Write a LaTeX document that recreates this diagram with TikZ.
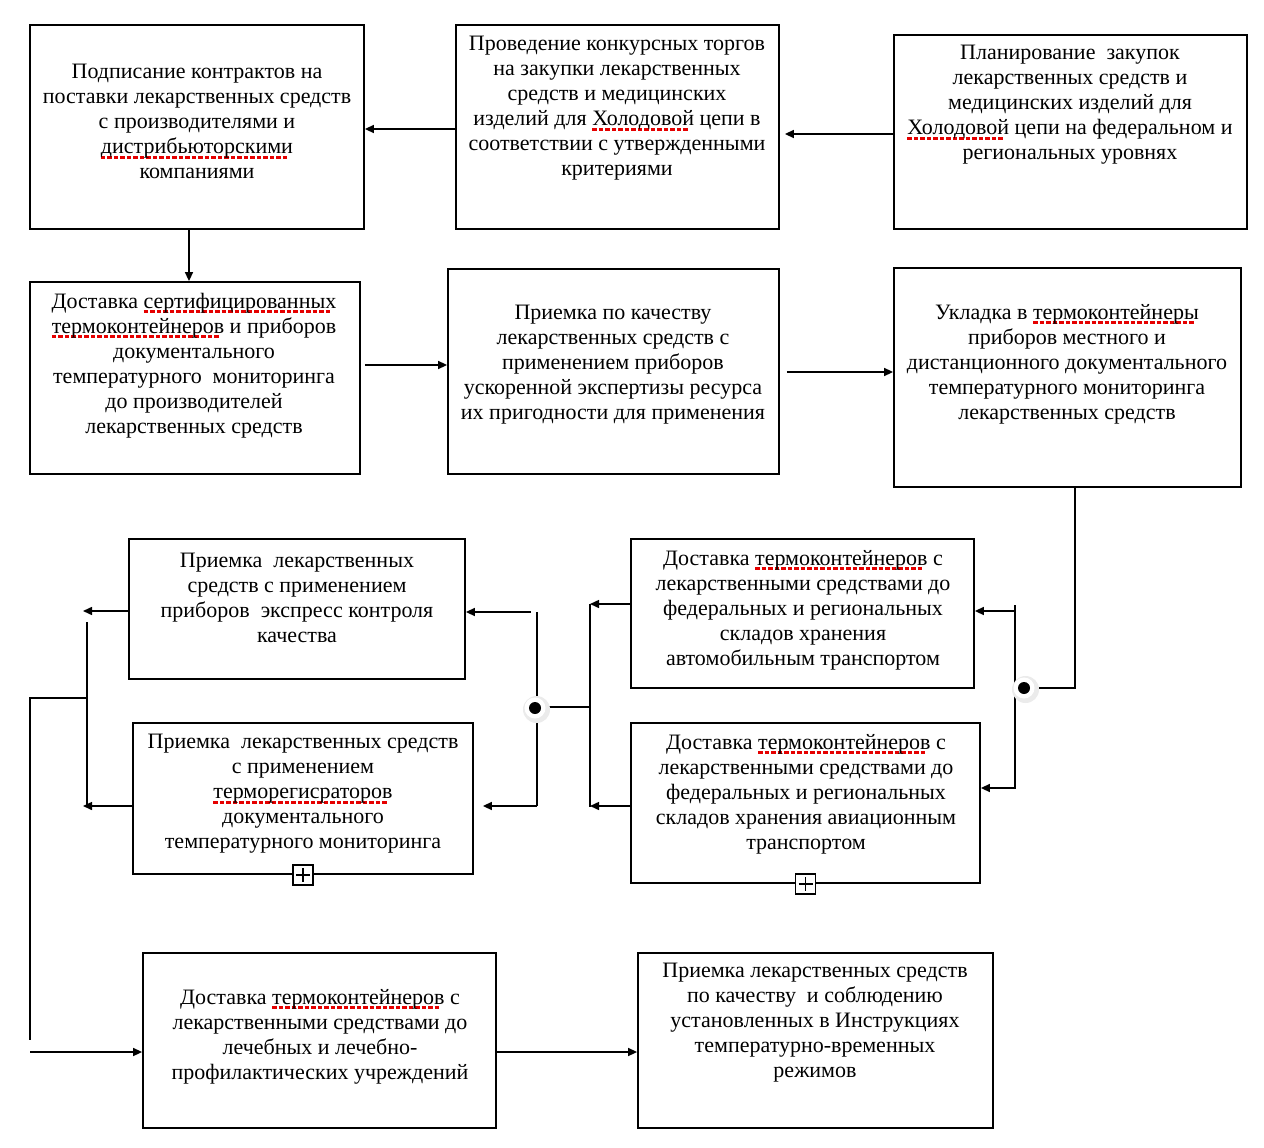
\documentclass[tikz,border=0pt]{standalone}
\usepackage{fontspec}
\setmainfont{Liberation Serif}
\usetikzlibrary{arrows.meta,calc}
\newsavebox\splbox
\newcommand\spl[1]{\sbox\splbox{#1}\rlap{\lower5pt\hbox to \wd\splbox{\color{red!90!black}\leaders\hbox{\rule{4.5pt}{3pt}\kern2pt}\hfill}}\usebox\splbox}
\tikzset{
  box/.style={draw=black, line width=1.8pt, inner sep=0pt},
  txt/.style={align=center, inner sep=0pt, font=\fontsize{22}{25}\selectfont},
  con/.style={line width=1.5pt},
  arr/.style={line width=1.5pt, -{Triangle[length=9pt,width=8pt]}},
  plusbox/.style={draw=black, line width=1.8pt, fill=white, minimum size=20pt, inner sep=0pt},
}
\newcommand\halodot[2]{%
  \fill[gray!16] ($(#2)+(1.5,1.5)$) circle (13.5);
  \fill[white] (#2) circle (10.5);
  \node[circle, fill=black, minimum size=12pt, inner sep=0pt] (#1) at (#2) {};}
\begin{document}
\begin{tikzpicture}[x=1pt,y=-1pt]
\useasboundingbox[fill=white] (0,0) rectangle (1264,1148);

% boxes
\node[box, minimum width=334pt, minimum height=204pt] (b1) at (197,127) {};
\node[box, minimum width=323pt, minimum height=204pt] (b2) at (617.5,127) {};
\node[box, minimum width=353pt, minimum height=194pt] (b3) at (1070.5,132) {};
\node[box, minimum width=330pt, minimum height=192pt] (b4) at (195,378) {};
\node[box, minimum width=331pt, minimum height=205pt] (b5) at (613.5,371.5) {};
\node[box, minimum width=347pt, minimum height=219pt] (b6) at (1067.5,377.5) {};
\node[box, minimum width=336pt, minimum height=140pt] (b7) at (297,609) {};
\node[box, minimum width=340pt, minimum height=151pt] (b8) at (303,798.5) {};
\node[box, minimum width=343pt, minimum height=149pt] (b9) at (802.5,613.5) {};
\node[box, minimum width=349pt, minimum height=160pt] (b10) at (805.5,803) {};
\node[box, minimum width=353pt, minimum height=175pt] (b11) at (319.5,1040.5) {};
\node[box, minimum width=355pt, minimum height=175pt] (b12) at (815.5,1040.5) {};

% texts
\node[txt] (t1) at (197,121.5) {Подписание контрактов на\\поставки лекарственных средств\\с производителями и\\\spl{дистрибьюторскими}\\компаниями};
\node[txt] (t2) at (617,108.5) {Проведение конкурсных торгов\\на закупки лекарственных\\средств и медицинских\\изделий для \spl{Холодовой} цепи в\\соответствии с утвержденными\\критериями};
\node[txt] (t3) at (1070,105) {Планирование\ \ закупок\\лекарственных средств и\\медицинских изделий для\\\spl{Холодовой} цепи на федеральном и\\региональных уровнях};
\node[txt] (t4) at (194,365.5) {Доставка \spl{сертифицированных}\\\spl{термоконтейнеров} и приборов\\документального\\температурного\ \ мониторинга\\до производителей\\лекарственных средств};
\node[txt] (t5) at (613,365) {Приемка по качеству\\лекарственных средств с\\применением приборов\\ускоренной экспертизы ресурса\\их пригодности для применения};
\node[txt] (t6) at (1067,364) {Укладка в \spl{термоконтейнеры}\\приборов местного и\\дистанционного документального\\температурного мониторинга\\лекарственных средств};
\node[txt] (t7) at (297,597.5) {Приемка\ \ лекарственных\\средств с применением\\приборов\ \ экспресс контроля\\качества};
\node[txt] (t8) at (303,794) {Приемка\ \ лекарственных средств\\с применением\\\spl{терморегисраторов}\\документального\\температурного мониторинга};
\node[txt] (t9) at (803,610) {Доставка \spl{термоконтейнеров} с\\лекарственными средствами до\\федеральных и региональных\\складов хранения\\автомобильным транспортом};
\node[txt] (t10) at (806,794) {Доставка \spl{термоконтейнеров} с\\лекарственными средствами до\\федеральных и региональных\\складов хранения авиационным\\транспортом};
\node[txt] (t11) at (320,1036.5) {Доставка \spl{термоконтейнеров} с\\лекарственными средствами до\\лечебных и лечебно-\\профилактических учреждений};
\node[txt] (t12) at (815,1023) {Приемка лекарственных средств\\по качеству\ \ и соблюдению\\установленных в Инструкциях\\температурно-временных\\режимов};

% plus boxes
\node[plusbox] (p1) at (b8.south) {};
\draw[line width=1.5pt] ($(p1.center)+(-7,0)$) -- ($(p1.center)+(7,0)$) ($(p1.center)+(0,-7)$) -- ($(p1.center)+(0,7)$);
\node[plusbox] (p2) at (b10.south) {};
\draw[line width=1.5pt] ($(p2.center)+(-7,0)$) -- ($(p2.center)+(7,0)$) ($(p2.center)+(0,-7)$) -- ($(p2.center)+(0,7)$);

% top row
\draw[arr] (b3.west |- 0,134) -- ([xshift=5pt]b2.east |- 0,134);
\draw[arr] (b2.west |- 0,129) -- (b1.east |- 0,129);
\draw[arr] (b1.south -| 189,0) -- (b4.north -| 189,0);
\draw[arr] ([xshift=4pt]b4.east |- 0,365) -- (b5.west |- 0,365);
\draw[arr] ([xshift=7pt]b5.east |- 0,372) -- (b6.west |- 0,372);

% junction right
\coordinate (rb1) at (1015,605);
\coordinate (rb2) at (1015,789);
\draw[con] (b6.south -| 1075,0) -- (1075,688) -- (1030,688);
\draw[con] (rb1) -- (rb2);
\draw[arr] (1015,611) -- (b9.east |- 0,611);
\draw[arr] (1015,788) -- (b10.east |- 0,788);
\halodot{d1}{1024,688}

% junction middle
\draw[arr] (b9.west |- 0,604) -- (590,604);
\draw[arr] (b10.west |- 0,806) -- (590,806);
\draw[con] (590,604) -- (590,807);
\draw[con] (590,707) -- (540,707);
\draw[con] (537,612) -- (537,806);
\draw[arr] (537,806) -- ([xshift=9pt]b8.east |- 0,806);
\draw[arr] (531,612) -- (b7.east |- 0,612);
\halodot{d2}{535,708}

% left bus
\draw[arr] (b7.west |- 0,611) -- (83,611);
\draw[arr] (b8.west |- 0,806) -- (83,806);
\draw[con] (87,622) -- (87,806);
\draw[con] (87,698) -- (30,698) -- (30,1040);
\coordinate (lft) at (30,1052);
\draw[arr] (lft) -- (b11.west |- lft);

% bottom
\draw[arr] (b11.east |- 0,1052) -- (b12.west |- 0,1052);
\end{tikzpicture}
\end{document}
